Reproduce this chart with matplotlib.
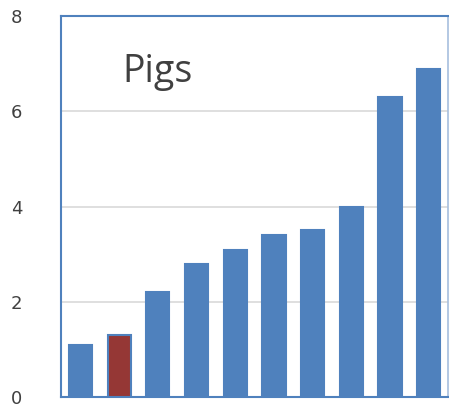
import matplotlib
matplotlib.use("Agg")
import matplotlib.pyplot as plt
import numpy as np

values = [1.1, 1.3, 2.2, 2.8, 3.1, 3.4, 3.5, 4.0, 6.3, 6.9]
highlight = 1
title = "Pigs"
yticks = [0, 2, 4, 6, 8]

blue = "#4F81BD"
red = "#953735"

fig = plt.figure(figsize=(4.49, 4.04), dpi=100)
ax = fig.add_axes([0.136, 0.017, 0.862, 0.943])

x = np.arange(len(values))
colors = [red if i == highlight else blue for i in x]
ax.bar(x, values, width=0.6, color=colors, edgecolor=blue, linewidth=1.5, zorder=3)

ax.set_xlim(-0.5, len(values) - 0.5)
ax.set_ylim(0, 8)
ax.set_yticks(yticks)
ax.set_xticks([])
ax.tick_params(axis="y", length=0, pad=28, labelsize=13, labelcolor="#404040")
ax.grid(axis="y", color="#D9D9D9", linewidth=1.2, zorder=0)

for side in ["left", "top", "bottom"]:
    ax.spines[side].set_color(blue)
    ax.spines[side].set_linewidth(1.5)
ax.spines["right"].set_color("#A7BFDE")
ax.spines["right"].set_linewidth(1.2)

ax.text(2.0, 6.83, title, fontsize=27, color="#404040",
        family="Open Sans", ha="center", va="center")

fig.savefig("out.png", dpi=100)
